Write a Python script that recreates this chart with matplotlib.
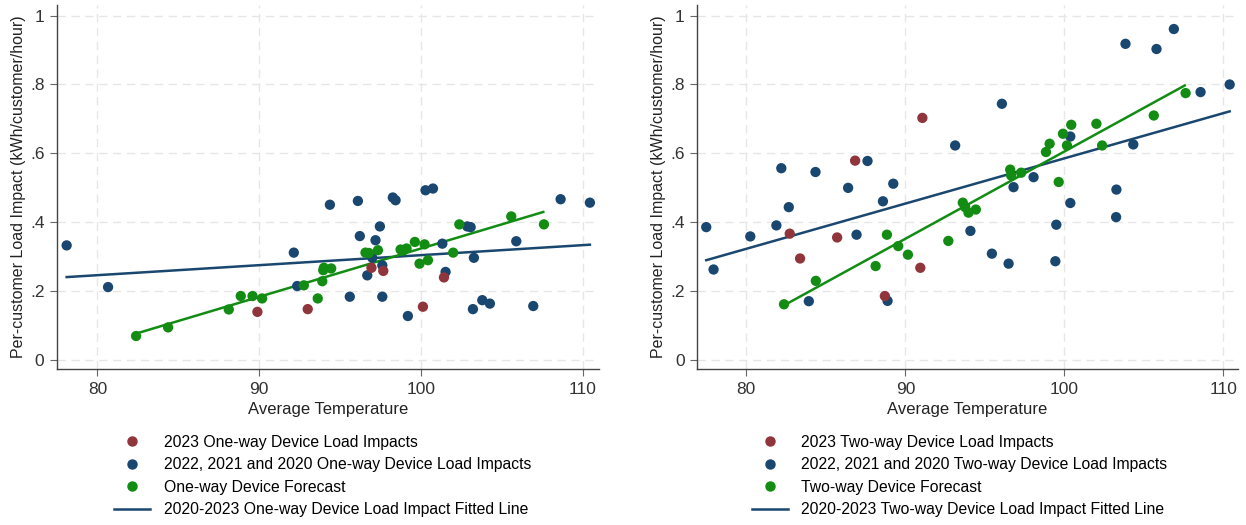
import matplotlib.pyplot as plt
from matplotlib.lines import Line2D

plt.rcParams['font.family'] = ['Liberation Sans', 'DejaVu Sans']

# One-way device panel
ow_2023_x = [89.89, 93.0, 96.94, 97.67, 100.12, 101.42]
ow_2023_y = [0.140, 0.148, 0.268, 0.259, 0.155, 0.240]

ow_prior_x = [78.1, 80.66, 92.14, 92.35, 94.37, 95.6, 96.1, 96.22, 96.68, 96.99,
              97.19, 97.46, 97.61, 97.61, 98.26, 98.43, 99.19, 100.28, 100.74,
              101.32, 101.52, 102.86, 103.07, 103.27, 103.21, 103.79, 104.26,
              105.89, 106.94, 108.63, 110.44]
ow_prior_y = [0.333, 0.212, 0.312, 0.215, 0.451, 0.184, 0.462, 0.360, 0.246, 0.297,
              0.348, 0.388, 0.275, 0.184, 0.472, 0.464, 0.128, 0.493, 0.498,
              0.338, 0.256, 0.388, 0.386, 0.297, 0.148, 0.174, 0.164,
              0.345, 0.157, 0.467, 0.457]

ow_fcst_x = [82.39, 84.37, 88.12, 88.86, 89.59, 90.18, 92.76, 93.62, 93.9, 93.96,
             94.0, 94.45, 96.57, 96.78, 97.34, 98.74, 98.9, 99.11, 99.62, 99.91,
             100.22, 100.43, 101.99, 102.37, 105.58, 107.6]
ow_fcst_y = [0.070, 0.095, 0.147, 0.186, 0.186, 0.179, 0.217, 0.179, 0.229, 0.261,
             0.268, 0.266, 0.312, 0.311, 0.319, 0.321, 0.318, 0.324, 0.343, 0.280,
             0.336, 0.290, 0.312, 0.394, 0.417, 0.394]

ow_fit_x = [78.1, 110.44]
ow_fit_y = [0.241, 0.335]
ow_fcst_fit_x = [82.39, 107.56]
ow_fcst_fit_y = [0.077, 0.430]

# Two-way device panel
tw_2023_x = [82.73, 83.38, 85.71, 86.84, 88.71, 90.94, 91.07]
tw_2023_y = [0.367, 0.295, 0.356, 0.579, 0.186, 0.268, 0.703]

tw_prior_x = [77.48, 77.94, 80.25, 81.89, 82.2, 82.67, 83.93, 84.35, 86.4, 86.93,
              87.62, 88.59, 88.88, 89.24, 93.13, 94.09, 95.44, 96.07, 96.49, 96.8,
              98.06, 99.49, 99.43, 100.37, 100.37, 103.27, 103.25, 103.84, 104.33,
              105.79, 106.88, 108.56, 110.39]
tw_prior_y = [0.386, 0.263, 0.359, 0.391, 0.557, 0.444, 0.171, 0.546, 0.500, 0.364,
              0.578, 0.461, 0.172, 0.512, 0.623, 0.375, 0.309, 0.744, 0.280, 0.502,
              0.531, 0.393, 0.287, 0.649, 0.456, 0.495, 0.415, 0.918, 0.626,
              0.903, 0.961, 0.778, 0.800]

tw_fcst_x = [82.37, 84.37, 88.13, 88.84, 89.55, 90.16, 92.7, 93.61, 93.76, 93.97,
             94.43, 96.59, 96.65, 97.28, 98.84, 99.07, 99.64, 99.91, 100.16, 100.43,
             102.01, 102.37, 105.62, 107.62]
tw_fcst_y = [0.162, 0.230, 0.273, 0.364, 0.331, 0.306, 0.346, 0.457, 0.444, 0.428,
             0.437, 0.553, 0.536, 0.544, 0.604, 0.628, 0.517, 0.657, 0.623, 0.683,
             0.686, 0.623, 0.710, 0.775]

tw_fit_x = [77.48, 110.39]
tw_fit_y = [0.290, 0.722]
tw_fcst_fit_x = [82.37, 107.56]
tw_fcst_fit_y = [0.159, 0.797]

y_ticks = [0, 0.2, 0.4, 0.6, 0.8, 1.0]
y_tick_labels = ['0', '.2', '.4', '.6', '.8', '1']
x_ticks = [80, 90, 100, 110]

RED = '#90353B'
NAVY = '#1A476F'
GREEN = '#128C12'

panels = [
    dict(rect=[0.0457, 0.297, 0.435, 0.693], xlim=(77.5, 111.0), kind='One-way',
         r=(ow_2023_x, ow_2023_y), b=(ow_prior_x, ow_prior_y), g=(ow_fcst_x, ow_fcst_y),
         fit=(ow_fit_x, ow_fit_y), gfit=(ow_fcst_fit_x, ow_fcst_fit_y), leg_x=0.094),
    dict(rect=[0.5594, 0.297, 0.434, 0.693], xlim=(76.9, 110.9), kind='Two-way',
         r=(tw_2023_x, tw_2023_y), b=(tw_prior_x, tw_prior_y), g=(tw_fcst_x, tw_fcst_y),
         fit=(tw_fit_x, tw_fit_y), gfit=(tw_fcst_fit_x, tw_fcst_fit_y), leg_x=0.09),
]

fig = plt.figure(figsize=(12.46, 5.25), dpi=100)

for p in panels:
    ax = fig.add_axes(p['rect'])
    ax.set_xlim(*p['xlim'])
    ax.set_ylim(-0.026, 1.03)

    ax.plot(*p['fit'], color=NAVY, lw=1.8, zorder=2)
    ax.plot(*p['gfit'], color=GREEN, lw=1.8, zorder=2)
    ax.scatter(*p['b'], s=55, color=NAVY, edgecolors='none', zorder=3)
    ax.scatter(*p['r'], s=55, color=RED, edgecolors='none', zorder=3)
    ax.scatter(*p['g'], s=55, color=GREEN, edgecolors='none', zorder=4)

    ax.set_xticks(x_ticks)
    ax.set_yticks(y_ticks)
    ax.set_yticklabels(y_tick_labels)
    ax.grid(True, color='#E6E6E6', linestyle=(0, (6, 4)), lw=1.0)
    ax.set_axisbelow(True)
    for side in ['top', 'right']:
        ax.spines[side].set_visible(False)
    for side in ['left', 'bottom']:
        ax.spines[side].set_color('#444444')
        ax.spines[side].set_linewidth(1.0)
    ax.tick_params(direction='out', length=5, color='#666666', labelsize=12.5,
                   labelcolor='#333333', pad=4)
    ax.set_xlabel('Average Temperature', fontsize=12, color='#222222', labelpad=4)
    ax.set_ylabel('Per-customer Load Impact (kWh/customer/hour)', fontsize=11.5,
                  color='#222222', labelpad=3)

    kind = p['kind']
    handles = [
        Line2D([], [], ls='none', marker='o', ms=6.5, color=RED),
        Line2D([], [], ls='none', marker='o', ms=6.5, color=NAVY),
        Line2D([], [], ls='none', marker='o', ms=6.5, color=GREEN),
        Line2D([], [], color=NAVY, lw=1.8),
    ]
    labels = [
        f'2023 {kind} Device Load Impacts',
        f'2022, 2021 and 2020 {kind} Device Load Impacts',
        f'{kind} Device Forecast',
        f'2020-2023 {kind} Device Load Impact Fitted Line',
    ]
    ax.legend(handles, labels, loc='upper left', bbox_to_anchor=(p['leg_x'], -0.163),
              frameon=False, fontsize=11.3, handlelength=2.3, handletextpad=0.85,
              labelspacing=0.48, borderaxespad=0)

fig.savefig('out.png', dpi=100, facecolor='white')
